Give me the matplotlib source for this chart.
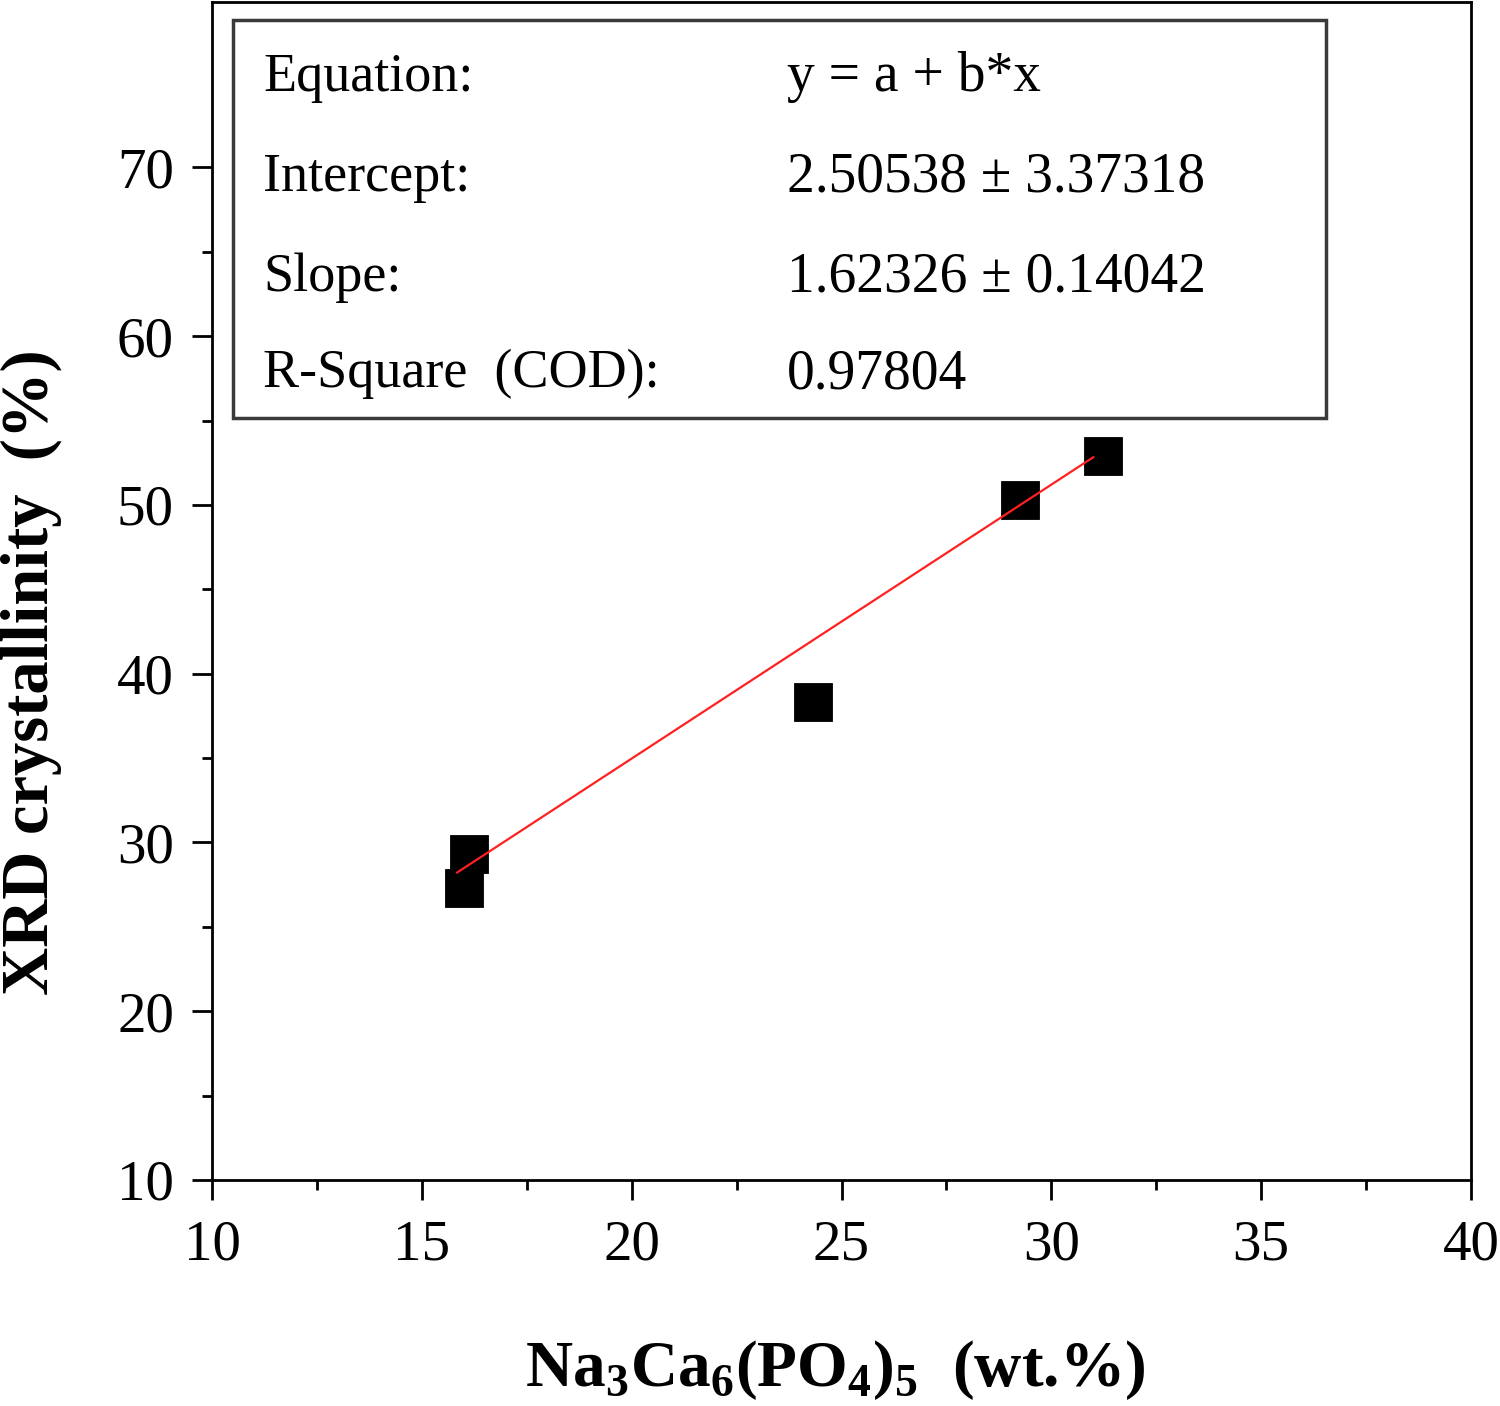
import matplotlib
matplotlib.use("Agg")
import matplotlib.pyplot as plt
from matplotlib.patches import Rectangle
from matplotlib.ticker import MultipleLocator, FixedLocator
import numpy as np

plt.rcParams['font.family'] = ['Liberation Serif', 'DejaVu Serif']
plt.rcParams['mathtext.fontset'] = 'custom'
plt.rcParams['mathtext.rm'] = 'Liberation Serif'
plt.rcParams['mathtext.bf'] = 'Liberation Serif:bold'

# data
na_ca_po4 = [16.12, 16.01, 24.33, 29.26, 31.23]
xrd_cryst = [29.32, 27.28, 38.34, 50.27, 52.87]
intercept = 2.50538
slope = 1.62326
fit_x_range = [15.84, 31.0]

y_major_ticks = [10, 20, 30, 40, 50, 60, 70]
y_minor_ticks = [15, 25, 35, 45, 55, 65]

stat_labels = ["Equation:", "Intercept:", "Slope:", "R-Square  (COD):"]
stat_values = ["y = a + b*x", "2.50538 \u00b1 3.37318", "1.62326 \u00b1 0.14042", "0.97804"]

W, H = 1500, 1406
fig = plt.figure(figsize=(W / 100, H / 100), dpi=100)
ax = fig.add_axes([212 / W, (H - 1180) / H, (1471 - 212) / W, (1180 - 2) / H])

ax.plot(na_ca_po4, xrd_cryst, linestyle='none', marker='s', ms=28, mfc='black',
        mec='black', mew=0.6, zorder=3)
fx = np.array(fit_x_range)
ax.plot(fx, intercept + slope * fx, color='#ff2020', lw=1.6, zorder=4)

ax.set_xlim(10, 40)
ax.set_ylim(10, 79.8)
ax.xaxis.set_major_locator(MultipleLocator(5))
ax.xaxis.set_minor_locator(MultipleLocator(2.5))
ax.yaxis.set_major_locator(FixedLocator(y_major_ticks))
ax.yaxis.set_minor_locator(FixedLocator(y_minor_ticks))
ax.tick_params(which='major', direction='out', length=14.4, width=2, labelsize=41,
               top=False, right=False)
ax.tick_params(which='minor', direction='out', length=7.2, width=2, top=False, right=False)
ax.tick_params(axis='x', which='major', pad=14)
ax.tick_params(axis='y', which='major', pad=13)
for s in ax.spines.values():
    s.set_linewidth(2)

# stats box
ax.add_patch(Rectangle((0.0167, 0.6469), 0.8848 - 0.0167, 0.9847 - 0.6469,
                       transform=ax.transAxes, fill=True, facecolor='white',
                       edgecolor='#3a3a3a', lw=2.5, zorder=5))
row_y = [0.936, 0.851, 0.766, 0.684]
for yy, lab, val in zip(row_y, stat_labels, stat_values):
    ax.text(0.0405, yy, lab, transform=ax.transAxes, fontsize=39, va='center',
            ha='left', zorder=6)
    ax.text(0.4567, yy, val, transform=ax.transAxes, fontsize=40, va='center',
            ha='left', zorder=6)

fig.text(835 / W, 1 - 1370 / H,
         r'Na$_\mathbf{3}$Ca$_\mathbf{6}$(PO$_\mathbf{4}$)$_\mathbf{5}$  (wt.%)',
         fontsize=47, fontweight='bold', ha='center', va='center')
fig.text(31 / W, 1 - 672 / H, 'XRD crystallinity  (%)', fontsize=48,
         fontweight='bold', rotation=90, ha='center', va='center')

fig.savefig('out.png', dpi=100)
